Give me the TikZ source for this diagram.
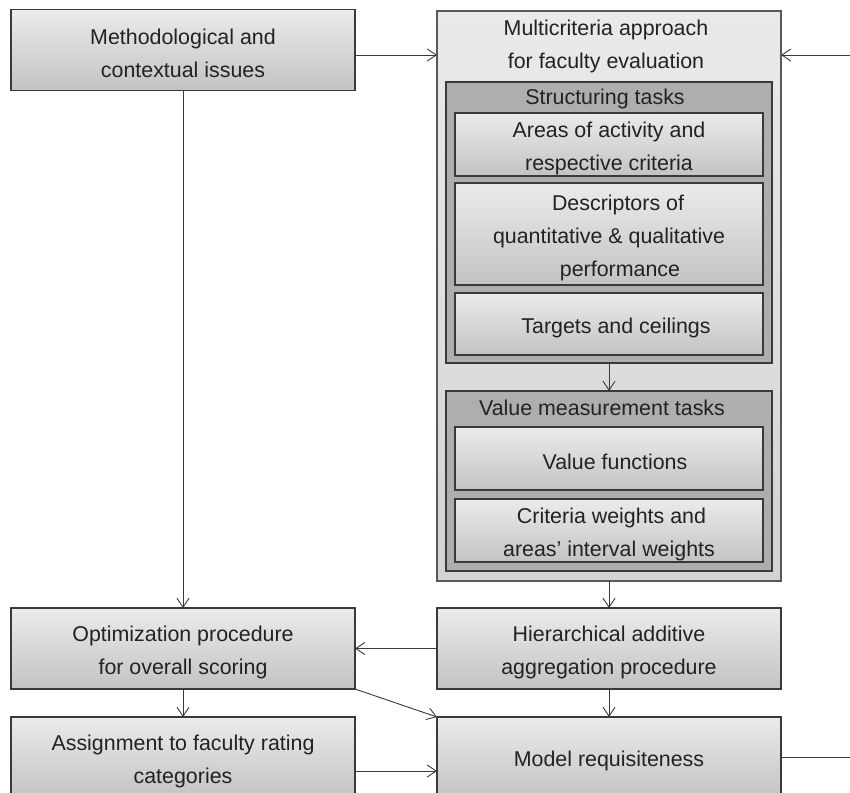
\documentclass[tikz,border=0pt]{standalone}
\usepackage{fontspec}
\setmainfont{Liberation Sans}
\usetikzlibrary{arrows.meta}
\definecolor{edgec}{HTML}{3A3A3A}
\definecolor{txtc}{HTML}{222222}
\definecolor{boxtop}{HTML}{EBEBEC}
\definecolor{boxbot}{HTML}{C3C3C5}
\definecolor{outtop}{HTML}{EAEAEB}
\definecolor{outbot}{HTML}{D3D3D5}
\definecolor{grpfill}{HTML}{AEAEB0}
\newcommand\upst{\rule{0pt}{23pt}}
\begin{document}
\begin{tikzpicture}[x=1pt,y=-1pt,
  txtfont/.style={font=\fontsize{21.4}{33}\selectfont, text=txtc, align=center},
  box/.style={draw=edgec, line width=1.2pt, rectangle, inner sep=0pt, outer sep=0pt,
    top color=boxtop, bottom color=boxbot, txtfont},
  outerbox/.style={draw=edgec!85, line width=1.2pt, rectangle, inner sep=0pt, outer sep=0pt,
    top color=outtop, bottom color=outbot, minimum width=344pt},
  grpbox/.style={draw=edgec, line width=1.2pt, rectangle, inner sep=0pt, outer sep=0pt,
    fill=grpfill, minimum width=326pt},
  inbox/.style={box, minimum width=308pt},
  wide/.style={box, minimum width=344pt, minimum height=81pt},
  lbl/.style={txtfont, inner sep=0pt},
  conn/.style={draw=edgec, line width=0.9pt, -{Straight Barb[length=9pt,width=12pt,line width=0.9pt]}},
  plain/.style={draw=edgec, line width=0.9pt}
]
\useasboundingbox (0,0) rectangle (850,792);
\fill[white] (0,0) rectangle (850,792);

% left column
\node[wide] (meth) at (183,50) {\upst Methodological and\\contextual issues};
\node[wide] (opt) at (183,648.5) {\upst Optimization procedure\\for overall scoring};
\node[wide] (assign) at (183,757.5) {\upst Assignment to faculty rating\\categories};

% right column
\node[outerbox, minimum height=570pt] (multi) at (609,296) {};
\node[lbl] (multilbl) at (606,46) {Multicriteria approach\\for faculty evaluation};

\node[grpbox, minimum height=281pt] (struct) at (609,222.5) {};
\node[lbl] (structlbl) at (605,99) {Structuring tasks};
\node[inbox, minimum height=63pt] (areas) at (609,144.5) {\upst Areas of activity and\\respective criteria};
\node[inbox, minimum height=102pt] (desc) at (609,234) {\upst\hspace*{18pt}Descriptors of\\quantitative \& qualitative\hspace*{14pt}\\\hspace*{22pt}performance};
\node[inbox, minimum height=62pt] (targ) at (609,324) {\upst\hspace*{14pt}Targets and ceilings};

\node[grpbox, minimum height=180pt] (valm) at (609,481) {};
\node[lbl] (valmlbl) at (602,408) {Value measurement tasks};
\node[inbox, minimum height=63pt] (vfun) at (609,458.5) {\upst\hspace*{12pt}Value functions};
\node[inbox, minimum height=63pt] (cw) at (609,530.5) {\upst\hspace*{5pt}Criteria weights and\\areas' interval weights};

\node[wide] (hier) at (609,648.5) {\upst Hierarchical additive\\aggregation procedure};
\node[wide] (model) at (609,757.5) {\upst Model requisiteness};

% free ends
\coordinate (rin) at (850,55);
\coordinate (rout) at (850,758);

% connectors
\draw[conn] ([yshift=-5pt]meth.east) -- ([yshift=-5pt]meth.east -| multi.west);
\draw[conn] (rin) -- (rin -| multi.east);
\draw[conn] (meth.south) -- (opt.north);
\draw[conn] (struct.south) -- (valm.north);
\draw[conn] (multi.south) -- (hier.north);
\draw[conn] (hier.west) -- (opt.east);
\draw[conn] (opt.south) -- (assign.north);
\draw[conn] (hier.south) -- (model.north);
\draw[conn] (opt.south east) -- (model.north west);
\draw[conn] ([yshift=-13.5pt]assign.east) -- ([yshift=-13.5pt]assign.east -| model.west);
\draw[plain] (model.east) -- (model.east -| rout);
\end{tikzpicture}
\end{document}
